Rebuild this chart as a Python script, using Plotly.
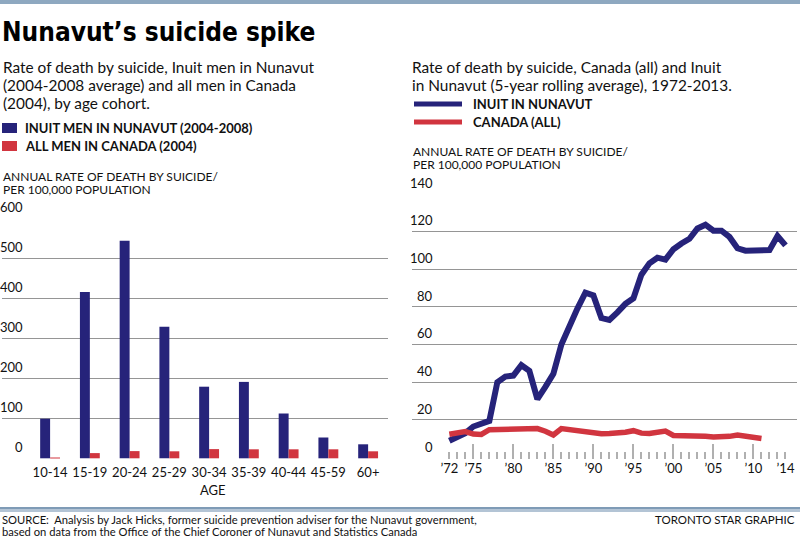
from typing import List
import logging
import plotly.graph_objects as go

logger = logging.getLogger(__name__)

WIDTH = 800
HEIGHT = 540

NAVY = "#26237a"
RED = "#d1353f"
GRID = "#959595"
TICK = "#b0b0b0"
BAND = "#8ea8c0"

TEXT_FONT = "Lato, 'Open Sans', sans-serif"
TITLE_FONT = "'Liberation Sans Narrow', 'DejaVu Sans Condensed', 'Roboto Condensed', sans-serif"

# Left panel: rate by age cohort
age_groups = ["10-14", "15-19", "20-24", "25-29", "30-34", "35-39", "40-44", "45-59", "60+"]
inuit_men_rate = [99, 416, 544, 329, 179, 191, 112, 52, 35]
canada_men_rate = [2, 13, 18, 17.5, 23, 22.5, 22.5, 22.5, 17.5]
bar_ticks = [0, 100, 200, 300, 400, 500, 600]

# Right panel: 5-year rolling average, 1972-2014
inuit_years = [1972, 1973, 1974, 1975, 1976, 1977, 1978, 1979, 1980, 1981,
               1982, 1983, 1984, 1985, 1986, 1987, 1988, 1989, 1990, 1991,
               1992, 1993, 1994, 1995, 1996, 1997, 1998, 1999, 2000, 2001,
               2002, 2003, 2004, 2005, 2006, 2007, 2008, 2009, 2010, 2011,
               2012, 2013, 2014]
inuit_rate = [9, 11, 13, 16.5, 18, 19.5, 40, 43, 43.5, 49,
              46, 31, 37.5, 44.5, 60, 70, 79, 87.5, 86, 74,
              73, 77, 81.5, 84.5, 97, 103, 106, 105, 110.5, 113.5,
              116, 121.5, 123.5, 120.3, 120.3, 117, 111, 109.7, 109.7, 109.6,
              110, 117.5, 112.5]
canada_years = [1972, 1973, 1974, 1975, 1976, 1977, 1978, 1979, 1980, 1981,
                1982, 1983, 1984, 1985, 1986, 1987, 1988, 1989, 1990, 1991,
                1992, 1993, 1994, 1995, 1996, 1997, 1998, 1999, 2000, 2001,
                2002, 2003, 2004, 2005, 2006, 2007, 2008, 2009, 2010, 2011]
canada_rate = [12.4, 13, 13.8, 12.5, 12.3, 14.8, 15, 15, 15, 15,
               15.2, 15.4, 14, 12, 15.4, 14.8, 14, 13.3, 12.6, 12.7,
               12.8, 13, 13.5, 14.3, 13, 12.8, 13.6, 14.1, 11.8, 11.8,
               11.8, 11.8, 11.3, 11, 10.8, 11.3, 12, 11.5, 10.8, 10.2]
line_ticks = [0, 20, 40, 60, 80, 100, 120, 140]
major_years = [1975, 1980, 1985, 1990, 1995, 2000, 2005, 2010]
major_labels = ["’75", "’80", "’85", "’90", "’95", "’00", "’05", "’10"]
end_years = [1972, 2014]
end_labels = ["’72", "’14"]
all_years = [1972, 1973, 1974, 1975, 1976, 1977, 1978, 1979, 1980, 1981,
             1982, 1983, 1984, 1985, 1986, 1987, 1988, 1989, 1990, 1991,
             1992, 1993, 1994, 1995, 1996, 1997, 1998, 1999, 2000, 2001,
             2002, 2003, 2004, 2005, 2006, 2007, 2008, 2009, 2010, 2011,
             2012, 2013, 2014]


def px(x: float) -> float:
    """Pixel x to paper x."""
    return x / WIDTH


def py(y: float) -> float:
    """Pixel y (from top) to paper y."""
    return 1 - y / HEIGHT


def add_text(fig: go.Figure, x: float, y: float, text: str, size: float = 15.4,
             family: str = TEXT_FONT, anchor: str = "left", color: str = "#111") -> None:
    """Put a line of text at a pixel position (y is the vertical centre)."""
    fig.add_annotation(x=px(x), y=py(y), xref="paper", yref="paper", text=text,
                       showarrow=False, xanchor=anchor, yanchor="middle",
                       font=dict(family=family, size=size, color=color))


def add_lines(fig: go.Figure, x: float, y0: float, step: float, lines: List[str], **kw) -> None:
    for i, line in enumerate(lines):
        add_text(fig, x, y0 + i * step, line, **kw)


fig = go.Figure()

fig.add_trace(go.Bar(x=age_groups, y=inuit_men_rate, marker_color=NAVY,
                     marker_line_width=0, xaxis="x", yaxis="y", showlegend=False))
fig.add_trace(go.Bar(x=age_groups, y=canada_men_rate, marker_color=RED,
                     marker_line_width=0, xaxis="x", yaxis="y", showlegend=False))

fig.add_trace(go.Scatter(x=canada_years, y=canada_rate, mode="lines",
                         line=dict(color=RED, width=5.5), xaxis="x3", yaxis="y2",
                         showlegend=False))
fig.add_trace(go.Scatter(x=inuit_years, y=inuit_rate, mode="lines",
                         line=dict(color=NAVY, width=6), xaxis="x2", yaxis="y2",
                         showlegend=False))

axis_font = dict(family=TEXT_FONT, size=13, color="#111")

# ranges are padded a touch so the top and bottom gridlines get drawn
fig.update_layout(
    width=WIDTH, height=HEIGHT,
    margin=dict(l=0, r=0, t=0, b=0),
    paper_bgcolor="white", plot_bgcolor="white",
    barmode="group", bargap=0.5, bargroupgap=0,
    xaxis=dict(domain=[px(2), px(388)], anchor="y", range=[-1.21, 8.5],
               showgrid=False, zeroline=False, showline=False, ticks="",
               tickfont=axis_font, ticklabelstandoff=4),
    yaxis=dict(domain=[py(459.1), py(217.5)], anchor="x", range=[-2, 602],
               tickvals=bar_ticks, showticklabels=False, showgrid=True,
               gridcolor=GRID, gridwidth=1, zeroline=False, showline=False),
    xaxis2=dict(domain=[px(411.7), px(796.7)], anchor="y2", range=[1967.3, 2015.4],
                tickmode="array", tickvals=major_years, ticktext=major_labels,
                ticks="inside", ticklen=15, tickwidth=1.5, tickcolor=TICK,
                minor=dict(tickmode="array", tickvals=all_years, ticks="inside",
                           ticklen=7, tickwidth=1.5, tickcolor=TICK),
                showgrid=False, zeroline=False, showline=False, tickfont=axis_font),
    xaxis3=dict(domain=[px(411.7), px(796.7)], anchor="y2", overlaying="x2",
                range=[1967.3, 2015.4], tickmode="array", tickvals=end_years,
                ticktext=end_labels, ticks="", showgrid=False, zeroline=False,
                showline=False, tickfont=axis_font),
    yaxis2=dict(domain=[py(458.6), py(192.6)], anchor="x2", range=[-0.5, 140.5],
                tickvals=line_ticks, showticklabels=False, showgrid=True,
                gridcolor=GRID, gridwidth=1, zeroline=False, showline=False),
)

# y tick labels sit above the gridlines
for v in bar_ticks:
    fig.add_annotation(x=px(25), y=v, xref="paper", yref="y", text=str(v),
                       showarrow=False, xanchor="right", yanchor="bottom", yshift=1,
                       font=axis_font)
for v in line_ticks:
    fig.add_annotation(x=px(435), y=v, xref="paper", yref="y2", text=str(v),
                       showarrow=False, xanchor="right", yanchor="bottom", yshift=1,
                       font=axis_font)

# header band and footer rule
fig.add_shape(type="rect", xref="paper", yref="paper", x0=0, x1=1, y0=py(4), y1=1,
              fillcolor=BAND, line_width=0)
fig.add_shape(type="rect", xref="paper", yref="paper", x0=0, x1=1, y0=py(512), y1=py(509),
              fillcolor="#b3c4d5", line_width=0)
fig.add_shape(type="rect", xref="paper", yref="paper", x0=0, x1=1, y0=py(509), y1=py(507),
              fillcolor="#7f9bb6", line_width=0)

# title and subtitles
add_text(fig, 0, 32, "<b>Nunavut’s suicide spike</b>", size=26, family=TITLE_FONT, color="#000")
add_lines(fig, 1, 67, 18, ["Rate of death by suicide, Inuit men in Nunavut",
                           "(2004-2008 average) and all men in Canada",
                           "(2004), by age cohort."])
add_lines(fig, 410, 67, 18, ["Rate of death by suicide, Canada (all) and Inuit",
                             "in Nunavut (5-year rolling average), 1972-2013."])

# left legend
fig.add_shape(type="rect", xref="paper", yref="paper", x0=px(2), x1=px(17),
              y0=py(133), y1=py(123), fillcolor=NAVY, line_width=0)
fig.add_shape(type="rect", xref="paper", yref="paper", x0=px(2), x1=px(17),
              y0=py(151), y1=py(141), fillcolor=RED, line_width=0)
add_text(fig, 23, 128, "<b>INUIT MEN IN NUNAVUT (2004-2008)</b>", size=13)
add_text(fig, 23, 146, "<b>ALL MEN IN CANADA (2004)</b>", size=13)

# right legend
fig.add_shape(type="line", xref="paper", yref="paper", x0=px(414), x1=px(462),
              y0=py(104), y1=py(104), line=dict(color=NAVY, width=5))
fig.add_shape(type="line", xref="paper", yref="paper", x0=px(414), x1=px(462),
              y0=py(122), y1=py(122), line=dict(color=RED, width=5))
add_text(fig, 471, 104, "<b>INUIT IN NUNAVUT</b>", size=13)
add_text(fig, 471, 122, "<b>CANADA (ALL)</b>", size=13)

# axis titles
add_lines(fig, 1, 176.5, 13, ["ANNUAL RATE OF DEATH BY SUICIDE/", "PER 100,000 POPULATION"], size=12)
add_lines(fig, 411, 151.5, 13, ["ANNUAL RATE OF DEATH BY SUICIDE/", "PER 100,000 POPULATION"], size=12)
add_text(fig, 213, 490, "AGE", size=13, anchor="center")

# footer
add_lines(fig, 0, 519, 12, [
    "SOURCE:  Analysis by Jack Hicks, former suicide prevention adviser for the Nunavut government,",
    "based on data from the Office of the Chief Coroner of Nunavut and Statistics Canada"], size=11.2)
add_text(fig, 797, 519, "TORONTO STAR GRAPHIC", size=11.5, anchor="right")

# the page body has a default 8px margin; drop it so the chart sits at 0,0
fig.write_html("out.html", config={"displayModeBar": False},
               post_script="document.body.style.margin='0';")
logger.info("Chart written to out.html")
